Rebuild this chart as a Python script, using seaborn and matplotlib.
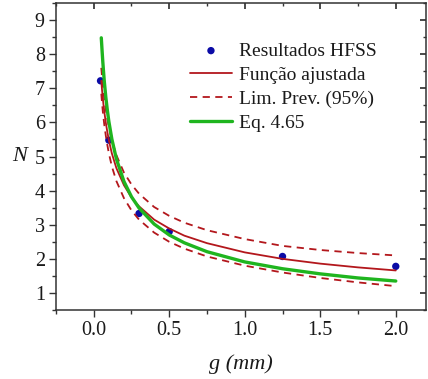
import matplotlib
matplotlib.use("Agg")
import matplotlib.pyplot as plt
from matplotlib.ticker import MultipleLocator
import pandas as pd
import seaborn as sns

# HFSS simulation results
g_hfss = [0.045, 0.10, 0.30, 0.50, 1.25, 2.00]
n_hfss = [7.22, 5.48, 3.33, 2.80, 2.07, 1.78]

# Sampled gap values for the curves
g_curve = [0.05, 0.055, 0.06, 0.065, 0.07, 0.08, 0.09, 0.10, 0.12, 0.15,
           0.20, 0.25, 0.30, 0.40, 0.50, 0.60, 0.75, 1.00, 1.25, 1.50,
           1.75, 2.00]
# Fitted function
n_fit = [7.22, 6.95, 6.71, 6.50, 6.31, 5.99, 5.72, 5.48, 5.09, 4.66,
         4.16, 3.80, 3.54, 3.15, 2.89, 2.68, 2.46, 2.19, 2.00, 1.86,
         1.75, 1.66]
# 95% prediction limits
n_upper = [7.60, 7.33, 7.09, 6.88, 6.69, 6.37, 6.10, 5.86, 5.47, 5.04,
           4.53, 4.18, 3.91, 3.52, 3.26, 3.06, 2.84, 2.58, 2.38, 2.26,
           2.17, 2.10]
n_lower = [6.84, 6.57, 6.33, 6.12, 5.93, 5.61, 5.34, 5.10, 4.71, 4.28,
           3.78, 3.42, 3.15, 2.77, 2.50, 2.30, 2.07, 1.80, 1.60, 1.44,
           1.31, 1.20]
# Eq. 4.65
n_eq = [8.48, 8.12, 7.78, 7.48, 7.20, 6.74, 6.36, 6.03, 5.51, 4.93,
        4.27, 3.82, 3.49, 3.02, 2.70, 2.47, 2.21, 1.91, 1.71, 1.56,
        1.44, 1.35]

sns.set_theme(style="ticks")
plt.rcParams["font.family"] = ["Liberation Serif", "DejaVu Serif"]

fig = plt.figure(figsize=(4.28, 3.79), dpi=100)
ax = fig.add_axes([0.1308, 0.182, 0.8645, 0.810])

RED = "#b3171c"
GREEN = "#1fb51f"
BLUE = "#0b0ba6"
SPINE = "#333333"
TEXT = "#1a1a1a"

df_pts = pd.DataFrame({"g": g_hfss, "N": n_hfss})
df_curve = pd.DataFrame({"g": g_curve, "fit": n_fit, "up": n_upper,
                         "lo": n_lower, "eq": n_eq})

sns.scatterplot(data=df_pts, x="g", y="N", ax=ax, color=BLUE, s=28,
                edgecolor="none", label="Resultados HFSS", zorder=2)
sns.lineplot(data=df_curve, x="g", y="fit", ax=ax, color=RED, lw=1.3,
             label="Função ajustada", zorder=3)
sns.lineplot(data=df_curve, x="g", y="up", ax=ax, color=RED, lw=1.3,
             label="Lim. Prev. (95%)", zorder=3)
sns.lineplot(data=df_curve, x="g", y="lo", ax=ax, color=RED, lw=1.3,
             label="_nolegend_", zorder=3)
sns.lineplot(data=df_curve, x="g", y="eq", ax=ax, color=GREEN, lw=2.4,
             label="Eq. 4.65", zorder=4)

# prediction limits are dashed
for ln in ax.lines[1:3]:
    ln.set_linestyle((0, (4, 3)))

ax.set_xticks([0.0, 0.5, 1.0, 1.5, 2.0])
ax.set_xticklabels(["0.0", "0.5", "1.0", "1.5", "2.0"])
ax.xaxis.set_minor_locator(MultipleLocator(0.25))
ax.yaxis.set_major_locator(MultipleLocator(1))
ax.yaxis.set_minor_locator(MultipleLocator(0.5))
ax.set_xlim(-0.25, 2.2)
ax.set_ylim(0.5, 9.5)

ax.tick_params(which="both", direction="out", labelsize=14.5, color=SPINE,
               width=1.0, top=False, right=False, labelcolor=TEXT)
ax.tick_params(which="major", length=5, pad=3)
ax.tick_params(which="minor", length=2.8)
for sp in ax.spines.values():
    sp.set_visible(True)
    sp.set_color(SPINE)
    sp.set_linewidth(1.1)

# mirrored inward ticks on top and right
sec_x = ax.secondary_xaxis("top")
sec_x.xaxis.set_major_locator(MultipleLocator(0.5))
sec_x.xaxis.set_minor_locator(MultipleLocator(0.25))
sec_x.tick_params(which="both", direction="in", labeltop=False, color=SPINE)
sec_x.tick_params(which="major", length=4)
sec_x.tick_params(which="minor", length=2)
sec_x.spines["top"].set_visible(False)
sec_y = ax.secondary_yaxis("right")
sec_y.yaxis.set_major_locator(MultipleLocator(1))
sec_y.yaxis.set_minor_locator(MultipleLocator(0.5))
sec_y.tick_params(which="both", direction="in", labelright=False, color=SPINE)
sec_y.tick_params(which="major", length=4)
sec_y.tick_params(which="minor", length=2)
sec_y.spines["right"].set_visible(False)

ax.set_xlabel("g (mm)", fontsize=16, fontstyle="italic", labelpad=10,
              color=TEXT)
ax.set_ylabel("N", fontsize=16, fontstyle="italic", rotation=0, labelpad=11,
              va="center", color=TEXT)

leg = ax.legend(loc="upper left", bbox_to_anchor=(0.34, 0.898), frameon=False,
                fontsize=14, handlelength=2.2, handletextpad=0.33,
                labelspacing=0.33, borderaxespad=0)
for txt in leg.get_texts():
    txt.set_color(TEXT)

fig.savefig("out.png", dpi=100)
